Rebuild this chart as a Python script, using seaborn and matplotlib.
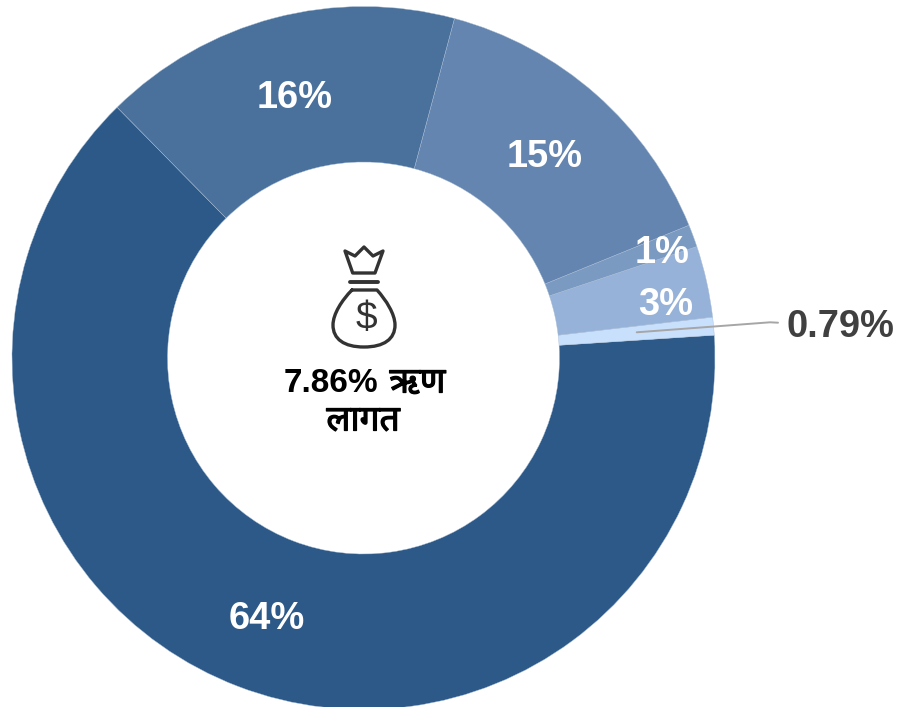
import matplotlib.pyplot as plt
import matplotlib.patheffects as pe
import seaborn as sns
from matplotlib.patches import PathPatch
from matplotlib.path import Path

# counter clockwise, starting from the big slice
shares = [63.68, 0.82, 3.28, 1.03, 14.67, 16.53]
labels = ["64%", "0.79%", "3%", "1%", "15%", "16%"]
colors = ["#2C5987", "#C9E0FC", "#96B2D8", "#7A9AC2", "#6485AF", "#4A719C"]
center_words = ["7.86%", "ऋण", "लागत"]

H = 707

sns.set_theme(style="white")
plt.rcParams['font.family'] = ['Liberation Sans', 'Noto Sans', 'DejaVu Sans']

fig = plt.figure(figsize=(8.98, 7.07), dpi=100)
ax = fig.add_axes([0, 0, 1, 1])

ax.pie(shares, colors=sns.color_palette(colors), startangle=134.5, counterclock=True,
       center=(363.5, H - 358), radius=351.5, frame=True,
       wedgeprops=dict(width=155.5, edgecolor='#A9BDD6', linewidth=0.3))
ax.set_xlim(0, 898)
ax.set_ylim(0, H)
ax.set_aspect('equal')
ax.axis('off')


def put(x, y, s, color='white', size=27.4, **kw):
    return ax.text(x, H - y, s, color=color, fontsize=size, fontweight='bold',
                   ha='center', va='center', **kw)


put(267, 619, labels[0])
put(840, 327, labels[1], color='#404040')
put(666, 305, labels[2])
put(662, 253, labels[3])
put(545, 157, labels[4])
put(295, 98, labels[5])

# leader line of the small slice
ax.plot([636.7, 770, 778], [H - 332.3, H - 322.3, H - 322.7], color='#A6A6A6', lw=1.4)

# center text, the devanagari font has no bold so it gets a thin stroke
put(331, 384, center_words[0], color='black', size=24)
bold = [pe.withStroke(linewidth=0.9, foreground='black')]
put(417.5, 383, center_words[1], color='black', size=25.5, path_effects=bold)
put(363, 421, center_words[2], color='black', size=25.5, path_effects=bold)


# money bag icon, coordinates are pixels of the picture
def icon(points, codes=None, closed=False, lw=2.4):
    pts = [(x, H - y) for x, y in points]
    if codes is None:
        codes = [Path.MOVETO] + [Path.LINETO] * (len(pts) - 1)
    if closed:
        pts.append(pts[0])
        codes = codes + [Path.CLOSEPOLY]
    ax.add_patch(PathPatch(Path(pts, codes), fill=False, edgecolor='#333333', lw=lw,
                           joinstyle='round', capstyle='round'))


icon([(352.7, 273), (345, 251), (355, 256), (364, 247), (373, 256), (383, 251), (375, 273)], closed=True)
icon([(350, 282), (378, 282)], lw=2.8)
icon([(352, 290), (377, 290),
      (386, 300), (395, 314), (395, 325),
      (395, 339), (384, 347), (364, 347),
      (344, 347), (333, 339), (333, 325),
      (333, 314), (342, 300), (352, 290)],
     codes=[Path.MOVETO, Path.LINETO] + [Path.CURVE4] * 12)
ax.text(366, H - 319, "$", color='#333333', fontsize=28, ha='center', va='center')

plt.savefig('out.png', dpi=100)
